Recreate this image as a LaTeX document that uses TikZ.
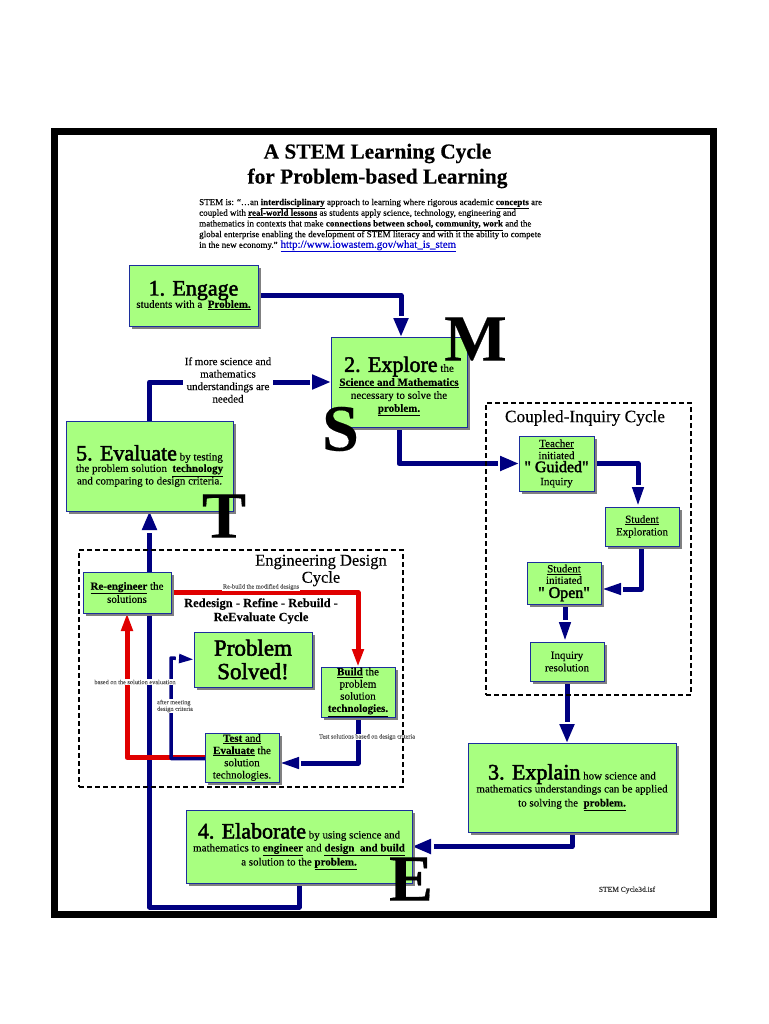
\documentclass[tikz,border=0pt]{standalone}
\usepackage{fontspec}
\setmainfont{Liberation Serif}[FakeBold=0.25]
\newfontfamily\hdfam{Liberation Serif}[FakeBold=2.2]
\usetikzlibrary{arrows.meta,shadows,calc}
\pgfdeclarelayer{base}
\pgfdeclarelayer{links}
\pgfdeclarelayer{notes}
\pgfsetlayers{base,links,notes,main}
\definecolor{boxgreen}{HTML}{A8FF80}
\definecolor{boxedge}{HTML}{1C2E9C}
\definecolor{cnavy}{HTML}{000080}
\definecolor{cred}{HTML}{E00000}
\definecolor{linkblue}{HTML}{0000D0}
\newcommand{\ul}[1]{\underline{#1}}
\newcommand{\fs}[2]{\fontsize{#1}{#2}\selectfont}
\newcommand{\hd}[1]{{\hdfam\fs{22}{24}#1}}
\newcommand{\qt}[1]{{\hdfam\fs{16}{16}#1}}
\tikzset{
  box/.style={draw=boxedge,line width=1pt,fill=boxgreen,inner sep=0pt,outer sep=0pt,align=center,
    drop shadow={shadow xshift=3pt,shadow yshift=-3pt,fill=black!50,opacity=1}},
  conn/.style={draw=cnavy,line width=5pt,line join=round,line cap=round,
    -{Rectangle[white,length=2.5pt,width=7pt,sep=0pt]Triangle[cnavy,length=19pt,width=14pt]}},
  slimconn/.style={draw=cnavy,line width=5pt,line join=round,line cap=round,
    -{Rectangle[white,length=2pt,width=7pt,sep=0pt]Triangle[cnavy,length=20pt,width=10.5pt]}},
  thinconn/.style={draw=cnavy,line width=3.5pt,line join=round,line cap=round,
    -{Rectangle[white,length=3pt,width=6pt,sep=0pt]Triangle[cnavy,length=15pt,width=8.5pt]}},
  redconn/.style={draw=cred,line width=5pt,line join=round,-{Triangle[length=18pt,width=11pt]}},
  dashframe/.style={draw=black,line width=2.2pt,dash pattern=on 5pt off 3pt,inner sep=0pt},
  tinylabel/.style={fill=white,inner sep=0.6pt,align=center,text=black!65,font=\fs{6.3}{6.7}},
  bigletter/.style={inner sep=0pt,font=\fs{66}{66}\bfseries},
  plaintext/.style={inner sep=0pt,align=center},
  small/.style={font=\fs{11}{#1}}
}
\begin{document}
\begin{tikzpicture}[x=1pt,y=-1pt]
\useasboundingbox (0,0) rectangle (768,1024);
\begin{pgfonlayer}{base}
\fill[white] (0,0) rectangle (768,1024);
\node[draw=black,line width=7pt,minimum width=659pt,minimum height=783pt,inner sep=0pt] (outer) at (384,523) {};
\end{pgfonlayer}

% title
\node[plaintext,font=\fs{21.4}{25}\bfseries] (title) at (377.5,166) {A STEM Learning Cycle\\for Problem-based Learning};
\node[inner sep=0pt,anchor=west,align=left,font=\fs{9}{10.7}] (intro) at (199,225.5) {STEM is: “…an \ul{\textbf{interdisciplinary}} approach to learning where rigorous academic \ul{\textbf{concepts}} are\\
coupled with \ul{\textbf{real-world lessons}} as students apply science, technology, engineering and\\
mathematics in contexts that make \ul{\textbf{connections between school, community, work}} and the\\
global enterprise enabling the development of STEM literacy and with it the ability to compete\\
in the new economy.” {\fs{10.9}{10.7}\textcolor{linkblue}{\ul{http://www.iowastem.gov/what\_is\_stem}}}};

% boxes
\node[box,small=12,minimum width=129pt,minimum height=61pt] (engage) at (193.5,295.5) {\hd{1. Engage}\\[-1pt]students with a\ \ \ul{\textbf{Problem.}}};
\node[box,small=13,minimum width=136pt,minimum height=90pt] (explore) at (399,382) {\rule{0pt}{24pt}\hd{2. Explore}{ the}\\[1pt]\ul{\textbf{Science and Mathematics}}\\necessary to solve the\\\ul{\textbf{problem.}}};
\node[box,small=12.5,minimum width=167pt,minimum height=90pt] (evaluate) at (149.5,466) {\hd{5. Evaluate}{ by testing}\\[-1pt]the problem solution\ \ \ul{\textbf{technology}}\\and comparing to design criteria.};
\node[box,small=14,minimum width=208pt,minimum height=89pt] (explain) at (572,787.5) {\hd{3. Explain}{ how science and}\\[-1pt]mathematics understandings can be applied\\to solving the\ \ \ul{\textbf{problem.}}};
\node[box,small=14,minimum width=226pt,minimum height=73pt] (elaborate) at (299,846.5) {\hd{4. Elaborate}{ by using science and}\\[-1pt]mathematics to \ul{\textbf{engineer}} and \ul{\textbf{design\ \ and build}}\\a solution to the \ul{\textbf{problem.}}};

\node[box,small=12,minimum width=75pt,minimum height=55pt] (guided) at (556.5,463.5) {\ul{Teacher}\\initiated\\[1pt]\qt{" Guided"}\\[1pt]Inquiry};
\node[box,small=12.5,minimum width=74pt,minimum height=39pt] (se) at (642,526.5) {\ul{Student}\\Exploration};
\node[box,small=11.5,minimum width=74pt,minimum height=42pt] (open) at (564,583) {\ul{Student}\\initiated\\[2.5pt]\qt{" Open"}};
\node[box,small=12.5,minimum width=74pt,minimum height=39pt] (resolve) at (567,661.5) {Inquiry\\resolution};

\node[box,small=12,minimum width=88pt,minimum height=41pt] (reeng) at (127,592.5) {\ul{\textbf{Re-engineer}} the\\solutions};
\node[box,font=\hdfam\fs{23}{23.5},minimum width=118pt,minimum height=55pt] (solved) at (253,659.5) {Problem\\Solved!};
\node[box,small=12.2,minimum width=74pt,minimum height=50pt] (build) at (358,692) {\ul{\textbf{Build}} the\\problem\\solution\\\ul{\textbf{technologies.}}};
\node[box,small=12.2,minimum width=74pt,minimum height=49pt] (test) at (242,757.5) {\ul{\textbf{Test} and}\\\ul{\textbf{Evaluate}} the\\solution\\technologies.};

% big letters
\node[bigletter] (M) at (475.5,339) {M};
\node[bigletter] (S) at (340.5,429) {S};
\node[bigletter] (T) at (224,516) {T};
\node[bigletter] (E) at (411,879) {E};

\node[inner sep=0pt,font=\fs{7.5}{8},text=black!80] (fname) at (627,890) {STEM Cycle3d.isf};

\begin{pgfonlayer}{links}
\draw[conn] (engage.east) -| ([xshift=2pt]explore.north);
\draw[conn] (explore.south) |- (guided.west);
\draw[slimconn] (guided.east) -| ([xshift=-4pt]se.north);
\draw[slimconn] ([xshift=-1pt]se.south) |- ([yshift=-6pt]open.east);
\draw[slimconn] ([xshift=1pt]open.south) -- ([xshift=-2pt]resolve.north);
\draw[conn] (resolve.south) -- (explain.north -| resolve.south);
\draw[conn] (explain.south) |- (elaborate.east);
\draw[conn] (elaborate.south) -- ++(0,24) -| (evaluate.south);
\draw[conn] (evaluate.north) |- (explore.west);
\draw[redconn] (reeng.east) -| (build.north);
\draw[redconn] (test.west) -| (reeng.south);
\draw[thinconn] ([yshift=-1pt]test.west) -| (171,658) -- (solved.west);
\draw[slimconn] (build.south) |- ([yshift=-5.5pt]test.east);
\end{pgfonlayer}

\begin{pgfonlayer}{notes}
\node[fill=white,inner sep=1.5pt,align=center,font=\fs{11}{12.5}] (more) at (228,380) {If more science and\\mathematics\\understandings are\\needed};
\node[tinylabel] (rebuild) at (261,587) {Re-build the modified designs};
\node[tinylabel] (basedon) at (135,682) {based on the solution evaluation};
\node[tinylabel,align=left] (meeting) at (175,706) {after meeting\\design criteria};
\node[tinylabel] (testsol) at (367,737) {Test solutions based on design criteria};
\node[dashframe,minimum width=324pt,minimum height=237pt] (edframe) at (241,668.5) {};
\node[dashframe,minimum width=205pt,minimum height=292pt] (ciframe) at (588.5,549) {};
\node[plaintext,font=\fs{16.5}{17}] (edtitle) at (321,570.5) {Engineering Design\\Cycle};
\node[plaintext,font=\fs{17.3}{17}] (cititle) at (585,418) {Coupled-Inquiry Cycle};
\node[plaintext,font=\fs{12.5}{14}\bfseries] (redesign) at (261,611) {Redesign - Refine - Rebuild -\\ReEvaluate Cycle};
\end{pgfonlayer}
\end{tikzpicture}
\end{document}
